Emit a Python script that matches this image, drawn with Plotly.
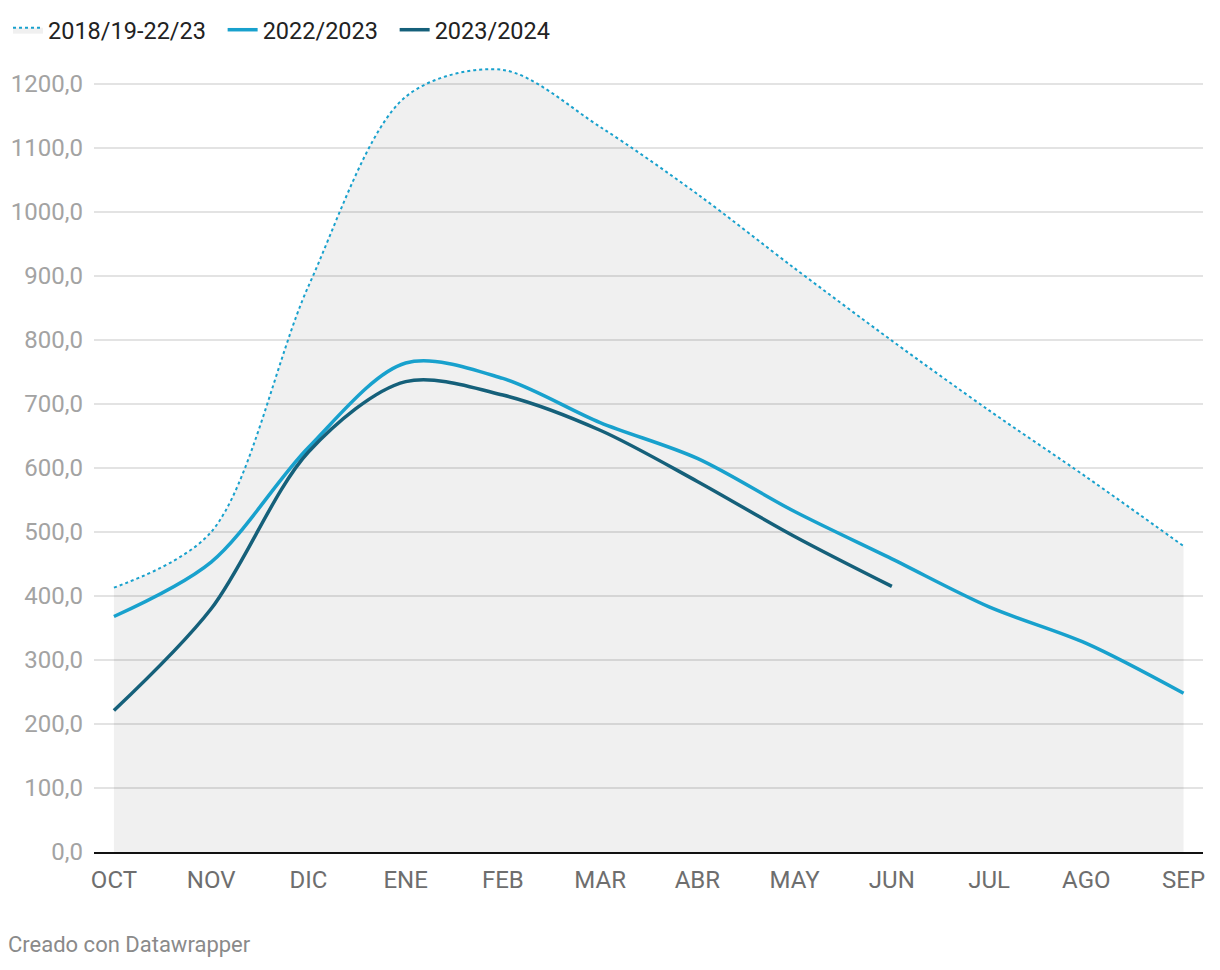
import plotly.graph_objects as go

# Meses de la campaña (octubre a septiembre)
meses = ["OCT", "NOV", "DIC", "ENE", "FEB", "MAR", "ABR", "MAY", "JUN", "JUL", "AGO", "SEP"]

# Valores
media_1819_2223 = [413, 500, 884, 1180, 1222, 1133, 1028, 912, 799, 690, 586, 478]
campana_2223 = [368, 453, 632, 764, 740, 671, 615, 532, 458, 383, 326, 248]
campana_2324 = [221, 380, 625, 735, 714, 659, 579, 493, 415]

valores_eje_y = list(range(0, 1300, 100))

AZUL_CLARO = "#18a1cd"
AZUL_OSCURO = "#15607a"
ESPACIO = "\u00a0\u00a0"  # separacion extra entre entradas de la leyenda

fig = go.Figure()

# Media historica: linea punteada con area gris debajo
fig.add_trace(go.Scatter(
    x=meses, y=media_1819_2223,
    mode="lines",
    name="2018/19-22/23" + ESPACIO,
    line=dict(color=AZUL_CLARO, width=2, dash="dot", shape="spline", smoothing=0.9),
    fill="tozeroy",
    fillcolor="rgba(0,0,0,0.06)",
))

fig.add_trace(go.Scatter(
    x=meses, y=campana_2223,
    mode="lines",
    name="2022/2023" + ESPACIO,
    line=dict(color=AZUL_CLARO, width=3.5, shape="spline", smoothing=0.9),
))

fig.add_trace(go.Scatter(
    x=meses[:len(campana_2324)], y=campana_2324,
    mode="lines",
    name="2023/2024",
    line=dict(color=AZUL_OSCURO, width=3.5, shape="spline", smoothing=0.9),
))

# la pagina tiene 8px de margen en el body: la figura se desplaza 8px
fig.update_layout(
    width=1204, height=954,
    margin=dict(l=86, r=9, t=56, b=110),
    paper_bgcolor="white",
    plot_bgcolor="white",
    font=dict(family="Roboto", size=24, color="#333333"),
    separators=",.",
    showlegend=True,
    legend=dict(
        orientation="h",
        xref="container", yref="container",
        x=-0.003, y=0.977, xanchor="left", yanchor="middle",
        font=dict(size=23.5, color="#222222"),
        itemwidth=30,
    ),
    xaxis=dict(
        type="category",
        range=[-0.205, 11.2],
        showgrid=False,
        showline=True, linecolor="#111111", linewidth=2,
        ticks="", tickfont=dict(size=24, color="#6e6e6e"),
        ticklabelstandoff=5,
        automargin=False,
    ),
    yaxis=dict(
        range=[0, 1231.25],
        tickvals=valores_eje_y,
        tickformat=".1f",
        showgrid=True, gridcolor="#e3e3e3", gridwidth=1.5,
        zeroline=False,
        tickfont=dict(size=24, color="#a3a3a3"),
        ticklabelstandoff=10,
        automargin=False,
    ),
    annotations=[dict(
        text="Creado con Datawrapper",
        xref="paper", yref="paper",
        x=-0.0794, y=-0.1168, xanchor="left", yanchor="middle",
        showarrow=False,
        font=dict(size=22, color="#8a8a8a"),
    )],
)

fig.write_html("out.html")
